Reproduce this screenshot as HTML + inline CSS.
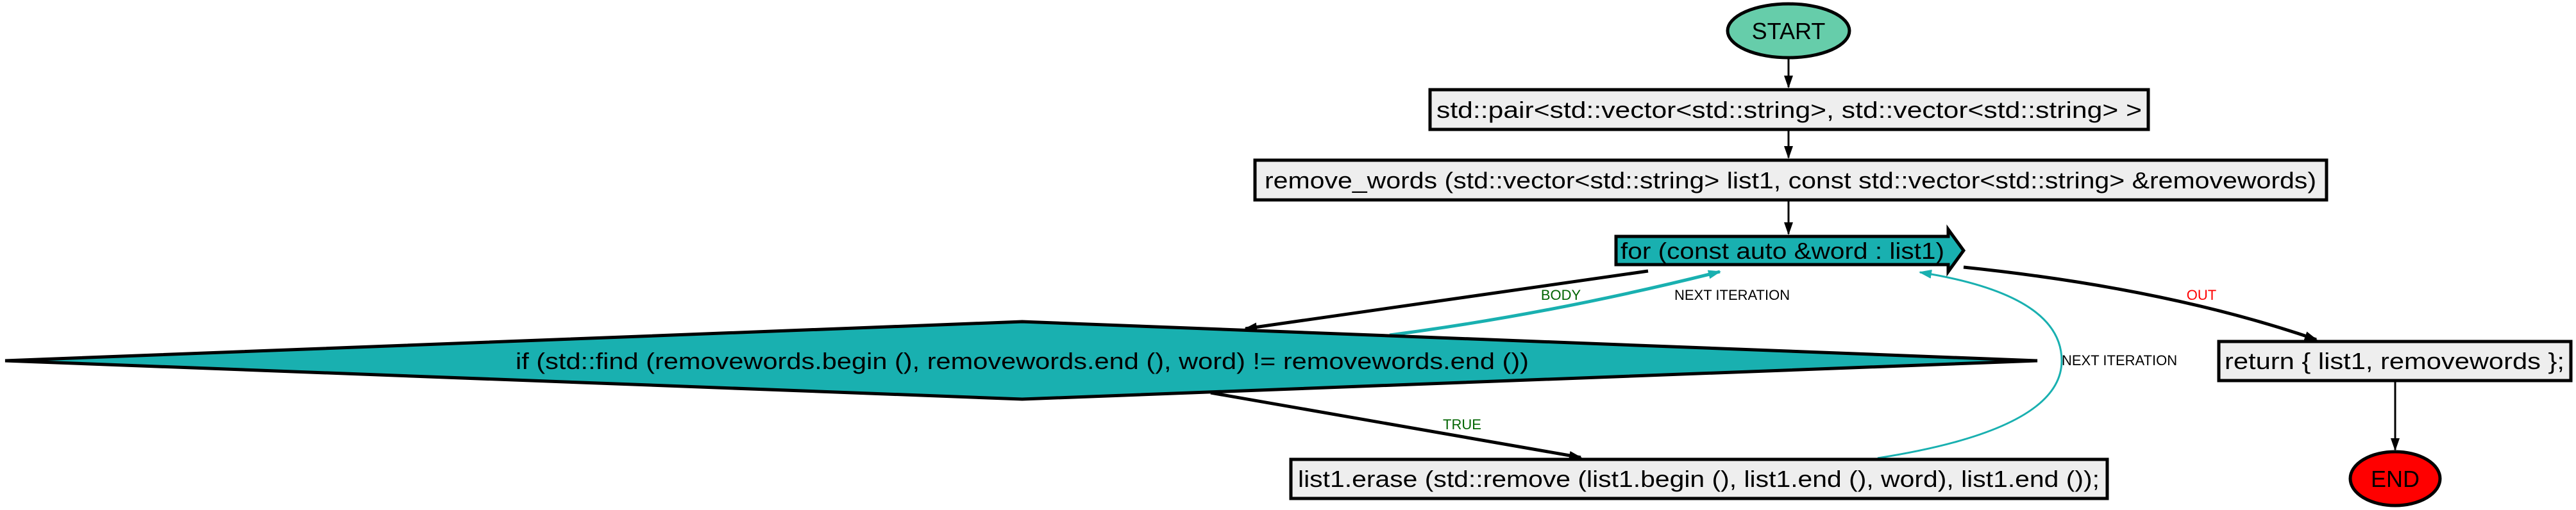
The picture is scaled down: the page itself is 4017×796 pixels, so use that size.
<!DOCTYPE html>
<html><head><meta charset="utf-8"><style>html,body{margin:0;padding:0;background:#fff}svg{display:block}</style></head>
<body>
<svg width="4017" height="796" viewBox="0 0 4017 796" xmlns="http://www.w3.org/2000/svg" font-family="Liberation Sans, sans-serif">
<defs>
<marker id="abk" markerWidth="20" markerHeight="14" refX="18" refY="7" orient="auto" markerUnits="userSpaceOnUse"><path d="M0,0 L20,7 L0,14 z" fill="#000"/></marker>
<marker id="at" markerWidth="20" markerHeight="14" refX="18" refY="7" orient="auto" markerUnits="userSpaceOnUse"><path d="M0,0 L20,7 L0,14 z" fill="#19b0b0"/></marker>
</defs>
<g stroke="#000" stroke-width="3" fill="none">
<line x1="2789" y1="90" x2="2789" y2="136" marker-end="url(#abk)"/>
<line x1="2789" y1="204" x2="2789" y2="246" marker-end="url(#abk)"/>
<line x1="2789" y1="314" x2="2789" y2="365" marker-end="url(#abk)"/>
<line x1="2570" y1="423" x2="1942" y2="513" stroke-width="5" marker-end="url(#abk)"/>
<line x1="1888" y1="613" x2="2465" y2="714" stroke-width="5" marker-end="url(#abk)"/>
<path d="M3062,417 Q3380,450 3612,530" stroke-width="5" marker-end="url(#abk)"/>
<line x1="3735" y1="596" x2="3735" y2="702" marker-end="url(#abk)"/>
</g>
<g stroke="#19b0b0" fill="none">
<path d="M2167,523 Q2420,490 2682,424" stroke-width="5" marker-end="url(#at)"/>
<path d="M2928,715 Q3215,670 3215,563 Q3215,460 2994,425" stroke-width="3" marker-end="url(#at)"/>
</g>
<g font-size="22">
<text x="2434" y="468" text-anchor="middle" fill="#006400">BODY</text>
<text x="2611" y="468" fill="#000">NEXT ITERATION</text>
<text x="3433" y="468" text-anchor="middle" fill="#ff0000">OUT</text>
<text x="2280" y="670" text-anchor="middle" fill="#006400">TRUE</text>
<text x="3215" y="570" fill="#000">NEXT ITERATION</text>
</g>
<ellipse cx="2789" cy="48" rx="95" ry="42" fill="#66cdaa" stroke="#000" stroke-width="5"/>
<text x="2789" y="61" font-size="36" text-anchor="middle">START</text>

<rect x="2230" y="140" width="1120" height="62" fill="#eeeeee" stroke="#000" stroke-width="5"/>
<text x="2790" y="184" font-size="36" text-anchor="middle" textLength="1100" lengthAdjust="spacingAndGlyphs">std::pair&lt;std::vector&lt;std::string&gt;, std::vector&lt;std::string&gt; &gt;</text>

<rect x="1957" y="250" width="1671" height="62" fill="#eeeeee" stroke="#000" stroke-width="5"/>
<text x="2792" y="294" font-size="36" text-anchor="middle" textLength="1640" lengthAdjust="spacingAndGlyphs">remove_words (std::vector&lt;std::string&gt; list1, const std::vector&lt;std::string&gt; &amp;removewords)</text>

<path d="M2520,369 L3038,369 L3038,358 L3062,391 L3038,424 L3038,413 L2520,413 z" fill="#19b0b0" stroke="#000" stroke-width="5"/>
<text x="2527" y="404" font-size="36" textLength="505" lengthAdjust="spacingAndGlyphs">for (const auto &amp;word : list1)</text>

<path d="M8,563 L1594,502 L3177,563 L1594,623 z" fill="#19b0b0" stroke="#000" stroke-width="5"/>
<text x="1594" y="576" font-size="36" text-anchor="middle" textLength="1580" lengthAdjust="spacingAndGlyphs">if (std::find (removewords.begin (), removewords.end (), word) != removewords.end ())</text>

<rect x="3460" y="533" width="549" height="61" fill="#eeeeee" stroke="#000" stroke-width="5"/>
<text x="3734" y="576" font-size="36" text-anchor="middle" textLength="530" lengthAdjust="spacingAndGlyphs">return { list1, removewords };</text>

<rect x="2013" y="717" width="1273" height="61" fill="#eeeeee" stroke="#000" stroke-width="5"/>
<text x="2649" y="760" font-size="36" text-anchor="middle" textLength="1250" lengthAdjust="spacingAndGlyphs">list1.erase (std::remove (list1.begin (), list1.end (), word), list1.end ());</text>

<ellipse cx="3735" cy="747" rx="70" ry="42" fill="#ff0000" stroke="#000" stroke-width="5"/>
<text x="3735" y="760" font-size="36" text-anchor="middle">END</text>
</svg>
</body></html>
